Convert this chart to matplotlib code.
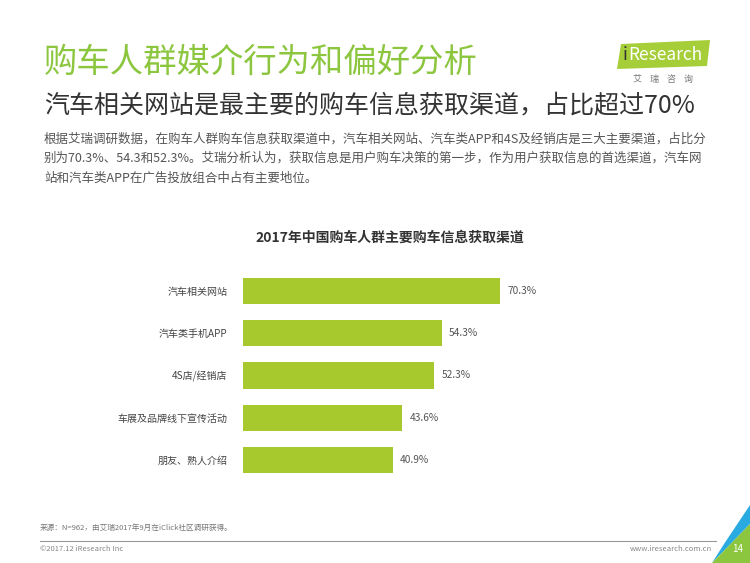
import matplotlib
matplotlib.use("Agg")
import matplotlib.pyplot as plt
from matplotlib.patches import Polygon

plt.rcParams['font.family'] = ['Noto Sans CJK SC', 'DejaVu Sans']

categories = ["汽车相关网站", "汽车类手机APP", "4S店/经销店", "车展及品牌线下宣传活动", "朋友、熟人介绍"]
values = [70.3, 54.3, 52.3, 43.6, 40.9]
value_labels = ["70.3%", "54.3%", "52.3%", "43.6%", "40.9%"]

W, H = 750, 563
fig = plt.figure(figsize=(7.5, 5.63), dpi=100)
fig.patch.set_facecolor("white")

def fx(x):
    return x / W

def fy(y):
    return 1 - y / H

# Header texts
fig.text(fx(44), fy(62), "购车人群媒介行为和偏好分析", fontsize=24, color="#8cc63f",
         va="center", ha="left")
fig.text(fx(44), fy(105), "汽车相关网站是最主要的购车信息获取渠道，占比超过70%", fontsize=18,
         color="#333333", va="center", ha="left")
body = ["根据艾瑞调研数据，在购车人群购车信息获取渠道中，汽车相关网站、汽车类APP和4S及经销店是三大主要渠道，占比分",
        "别为70.3%、54.3和52.3%。艾瑞分析认为，获取信息是用户购车决策的第一步，作为用户获取信息的首选渠道，汽车网",
        "站和汽车类APP在广告投放组合中占有主要地位。"]
for i, line in enumerate(body):
    fig.text(fx(44), fy(139 + i * 19.5), line, fontsize=9, color="#555555", va="center", ha="left")

# Logo
logo = Polygon([(fx(621), fy(44)), (fx(710), fy(40)), (fx(707), fy(66)), (fx(617), fy(69))],
               closed=True, transform=fig.transFigure, facecolor="#a6ce39", edgecolor="none")
fig.patches.append(logo)
fig.text(fx(623), fy(55), "i", fontsize=12.5, color="#333333", va="center", ha="left")
fig.text(fx(628), fy(55), "Research", fontsize=12.5, color="white", va="center", ha="left")
fig.text(fx(663), fy(79), "艾    瑞    咨    询", fontsize=6.5, color="#777777", va="center", ha="center")

# Chart title
fig.text(fx(390), fy(238), "2017年中国购车人群主要购车信息获取渠道", fontsize=10,
         fontweight="bold", color="#333333", va="center", ha="center")

# Bar chart
ax = fig.add_axes([fx(243), fy(481), 365.6 / W, 211 / H])
ypos = list(range(len(categories)))
ax.barh(ypos, values, height=0.62, color="#a8c92e")
ax.set_xlim(0, 100)
ax.set_ylim(len(categories) - 0.5, -0.5)
ax.set_yticks(ypos)
ax.set_yticklabels(categories, fontsize=7.2, color="#444444")
ax.tick_params(axis="y", length=0, pad=11)
ax.set_xticks([])
for s in ax.spines.values():
    s.set_visible(False)
for y, v, lab in zip(ypos, values, value_labels):
    ax.text(v + 2.0, y, lab, fontsize=7.3, color="#555555", va="center", ha="left")

# Footer
fig.text(fx(40), fy(528), "来源：N=962，由艾瑞2017年9月在iClick社区调研获得。", fontsize=5.5,
         color="#777777", va="center", ha="left")
fig.add_artist(plt.Line2D([fx(40), fx(716)], [fy(541), fy(541)], color="#999999", lw=0.8))
fig.text(fx(40), fy(549), "©2017.12 iResearch Inc", fontsize=5.5, color="#888888", va="center", ha="left")
fig.text(fx(712), fy(549), "www.iresearch.com.cn", fontsize=5.5, color="#888888", va="center", ha="right")

# Corner decoration
green = Polygon([(fx(712), fy(563)), (fx(750), fy(563)), (fx(750), fy(524))], closed=True,
                transform=fig.transFigure, facecolor="#8cc63f", edgecolor="none")
blue = Polygon([(fx(724), fy(544)), (fx(750), fy(505)), (fx(750), fy(524)), (fx(712), fy(563))],
               closed=True, transform=fig.transFigure, facecolor="#29abe2", edgecolor="none")
fig.patches.append(blue)
fig.patches.append(green)
fig.text(fx(738), fy(549), "14", fontsize=7, color="white", va="center", ha="center")

fig.savefig("out.png", dpi=100, facecolor="white")
